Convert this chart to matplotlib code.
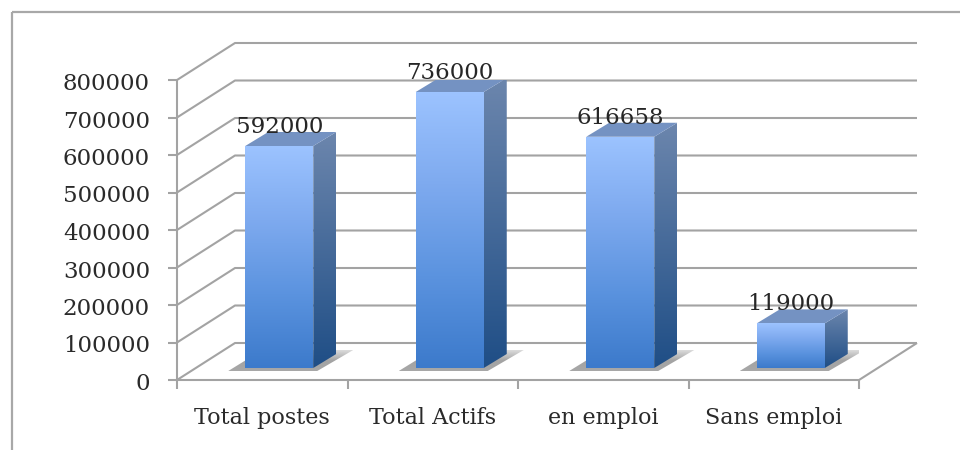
import numpy as np
import matplotlib
matplotlib.use("Agg")
import matplotlib.pyplot as plt
from matplotlib.patches import Polygon
from matplotlib.lines import Line2D
from matplotlib.colors import LinearSegmentedColormap

categories = ["Total postes", "Total Actifs", "en emploi", "Sans emploi"]
values = [592000, 736000, 616658, 119000]
y_ticks = [0, 100000, 200000, 300000, 400000, 500000, 600000, 700000, 800000]

W, H = 960, 450
plt.rcParams['font.family'] = ['DejaVu Serif']

fig = plt.figure(figsize=(9.6, 4.5), dpi=100)
# front plane of the 3d box, in pixels: x 177-859, y 380-80
ax = fig.add_axes([177 / W, 1 - 380 / H, 682 / W, 300 / H])
ax.set_xlim(0, len(categories))
ax.set_ylim(0, 800000)
ax.axis("off")

# pixel sizes converted to data units
px = len(categories) / 682
py = 800000 / 300
depth_x, depth_y = 58 * px, 37 * py      # floor depth
bar_dx, bar_dy = 17 * px, 12 * py        # bar front sits this far in
side_dx, side_dy = 23 * px, 14 * py      # bar depth
bar_w = 68 * px

grid_col = "#a3a3a3"
line_kw = dict(color=grid_col, lw=1.5, clip_on=False, solid_capstyle="butt")

# walls and floor
for v in y_ticks:
    ax.plot([0, depth_x, len(categories) + depth_x], [v, v + depth_y, v + depth_y], **line_kw)
    ax.plot([-9 * px, 0], [v, v], **line_kw)
ax.plot([0, 0], [0, 800000], **line_kw)
ax.plot([0, len(categories), len(categories) + depth_x], [0, 0, depth_y], **line_kw)
for i in range(len(categories) + 1):
    ax.plot([i, i], [0, -9 * py], **line_kw)

front_cm = LinearSegmentedColormap.from_list("front", ["#9cc3ff", "#7eaaef", "#5b93df", "#3c7acb"])
side_cm = LinearSegmentedColormap.from_list("side", ["#6c86ad", "#1f4e86"])
shadow_cm = LinearSegmentedColormap.from_list(
    "shadow", [(0.62, 0.62, 0.62, 0.9), (0.55, 0.55, 0.55, 0.8), (0.6, 0.6, 0.6, 0.35)])
grad = np.linspace(0, 1, 256).reshape(-1, 1)


def gradient_poly(pts, cmap, z, img=grad):
    xs = [p[0] for p in pts]
    ys = [p[1] for p in pts]
    im = ax.imshow(img, cmap=cmap, extent=[min(xs), max(xs), min(ys), max(ys)],
                   aspect="auto", origin="upper", zorder=z, interpolation="bilinear")
    poly = Polygon(pts, closed=True, transform=ax.transData, fc="none", ec="none")
    ax.add_patch(poly)
    im.set_clip_path(poly)


for i, v in enumerate(values):
    x0 = i + 0.5 + bar_dx - bar_w / 2
    x1 = x0 + bar_w
    base = bar_dy
    top = bar_dy + v

    # floor shadow
    gradient_poly([(x0 - 17 * px, base - 3 * py), (x1 + 4 * px, base - 3 * py),
                   (x1 + 40 * px, base + 18 * py), (x0 + 17 * px, base + 18 * py)],
                  shadow_cm, 3, grad[::-1])

    # side, top, front
    gradient_poly([(x1, base), (x1 + side_dx, base + side_dy),
                   (x1 + side_dx, top + side_dy), (x1, top)], side_cm, 4)
    ax.add_patch(Polygon([(x0, top), (x1, top), (x1 + side_dx, top + side_dy),
                          (x0 + side_dx, top + side_dy)], closed=True,
                         fc="#7492c2", ec="none", zorder=4))
    gradient_poly([(x0, base), (x1, base), (x1, top), (x0, top)], front_cm, 5)

    ax.text(x0 + bar_w / 2, top + 13 * py, f"{v}", ha="center", va="baseline",
            fontsize=16.5, color="#262626", zorder=6)

ax.set_xlim(0, len(categories))
ax.set_ylim(0, 800000)

for v in y_ticks:
    ax.text(-27 * px, v - 10 * py, str(v), ha="right", va="baseline", fontsize=16.5,
            color="#2a2a2a", clip_on=False)
for i, c in enumerate(categories):
    ax.text(i + 0.5, -44 * py, c, ha="center", va="baseline", fontsize=16,
            color="#2a2a2a", clip_on=False)

# outer frame, only the top and left edges show
frame_kw = dict(color="#a8a8a8", lw=1.6, transform=fig.transFigure, solid_capstyle="butt")
fig.add_artist(Line2D([11.5 / W, 11.5 / W], [0, 1 - 12 / H], **frame_kw))
fig.add_artist(Line2D([11.5 / W, 1], [1 - 12 / H, 1 - 12 / H], **frame_kw))

fig.savefig("out.png", dpi=100)
